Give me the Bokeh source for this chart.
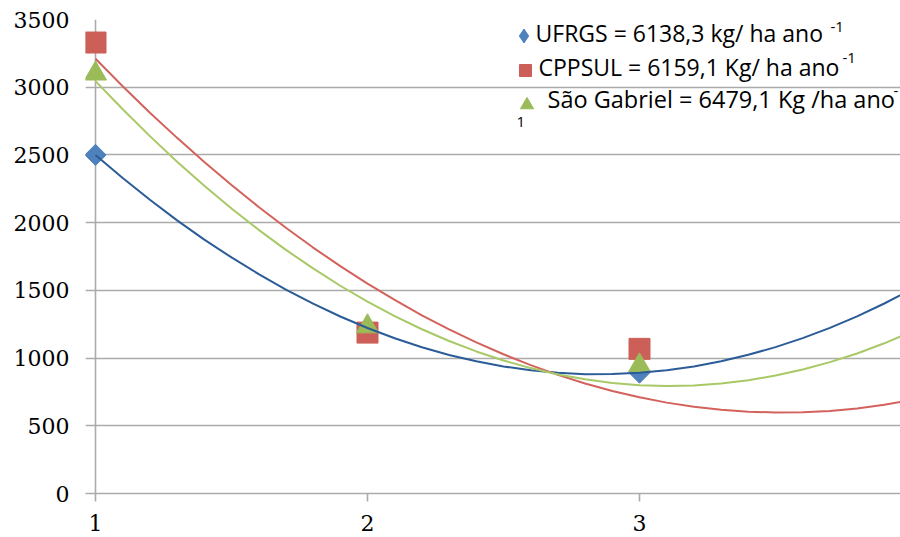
import math
from bokeh.plotting import figure
from bokeh.models import (Range1d, FixedTicker, Span, Label, Legend, LegendItem)
from bokeh.embed import file_html
from bokeh.resources import INLINE

# ---------------- data ----------------
x_points = [1, 2, 3]
ufrgs = [2500, 1222, 893]
cppsul = [3330, 1188, 1068]
sao_gabriel = [3100, 1233, 945]

# polynomial trend lines
trend_x = [1.0, 1.1, 1.2, 1.3, 1.4, 1.5, 1.6, 1.7, 1.8, 1.9,
           2.0, 2.1, 2.2, 2.3, 2.4, 2.5, 2.6, 2.7, 2.8, 2.9,
           3.0, 3.1, 3.2, 3.3, 3.4, 3.5, 3.6, 3.7, 3.8, 3.9, 4.0]
ufrgs_trend = [2500, 2330, 2169, 2017, 1875, 1743, 1620, 1506, 1402, 1307,
               1222, 1146, 1080, 1023, 976, 938, 910, 891, 881, 882,
               891, 910, 938, 976, 1024, 1081, 1147, 1223, 1308, 1403, 1507]
cppsul_trend = [3210, 3007, 2812, 2626, 2448, 2278, 2116, 1962, 1816, 1679,
                1550, 1429, 1316, 1212, 1116, 1028, 948, 876, 812, 757,
                710, 671, 640, 618, 604, 598, 600, 610, 628, 655, 690]
sg_trend = [3045, 2837, 2639, 2450, 2273, 2105, 1947, 1799, 1662, 1534,
            1417, 1310, 1213, 1126, 1049, 982, 926, 879, 843, 816,
            800, 794, 798, 812, 836, 871, 915, 970, 1034, 1109, 1194]

x_ticks = [1, 2, 3]
y_ticks = [0, 500, 1000, 1500, 2000, 2500, 3000, 3500]

legend_texts = ["UFRGS = 6138,3 kg/ ha ano",
                "CPPSUL = 6159,1 Kg/ ha ano",
                "S\u00e3o Gabriel = 6479,1 Kg /ha ano"]
legend_sups = ["-1", "-1", "-"]
legend_wrap = "1"

# ---------------- styles ----------------
BLUE_M, RED_M, GREEN_M = "#4F81BD", "#CD5F59", "#9BBB59"
BLUE_L, RED_L, GREEN_L = "#2B5C98", "#D4625C", "#A9C866"
GRID = "#ABABAB"
SERIF = "DejaVu Serif"
SANS = "Open Sans"

p = figure(width=900, height=537, output_backend="svg", toolbar_location=None,
           x_range=Range1d(1 - 10 / 272, 1 + 805 / 272), y_range=Range1d(0, 3500),
           min_border_left=85, min_border_right=0, min_border_top=19,
           min_border_bottom=44)
p.outline_line_color = None
p.background_fill_color = "white"
p.border_fill_color = "white"

p.xgrid.visible = False
p.ygrid.ticker = FixedTicker(ticks=y_ticks)
p.ygrid.grid_line_color = GRID
p.ygrid.grid_line_width = 1.6

xa = p.xaxis[0]
xa.ticker = FixedTicker(ticks=x_ticks)
xa.axis_line_color = GRID
xa.axis_line_width = 1.6
xa.major_tick_line_color = GRID
xa.major_tick_line_width = 1.6
xa.major_tick_out = 8
xa.major_tick_in = 0
xa.minor_tick_line_color = None
xa.major_label_text_font = SERIF
xa.major_label_text_font_size = "22px"
xa.major_label_text_color = "black"
xa.major_label_standoff = 13

ya = p.yaxis[0]
ya.ticker = FixedTicker(ticks=y_ticks)
ya.axis_line_color = None
ya.major_tick_line_color = None
ya.minor_tick_line_color = None
ya.major_tick_out = 0
ya.major_tick_in = 0
ya.major_label_text_font = SERIF
ya.major_label_text_font_size = "22px"
ya.major_label_text_color = "black"
ya.major_label_standoff = 16

# vertical axis line at x = 1
p.add_layout(Span(location=1, dimension="height", line_color=GRID,
                  line_width=1.6, level="underlay"))

# markers
p.scatter(x_points, ufrgs, marker="square", angle=math.pi / 4, size=15,
          fill_color=BLUE_M, line_color=BLUE_M)
p.scatter(x_points, cppsul, marker="square", size=21,
          fill_color=RED_M, line_color=RED_M)
p.scatter(x_points, sao_gabriel, marker="triangle", size=22,
          fill_color=GREEN_M, line_color=GREEN_M)

# trend lines
p.line(trend_x, ufrgs_trend, line_color=BLUE_L, line_width=2)
p.line(trend_x, cppsul_trend, line_color=RED_L, line_width=2)
p.line(trend_x, sg_trend, line_color=GREEN_L, line_width=2)

# legend glyphs (swatch renderers hold a single NaN so they draw nothing in the plot)
nan = float("nan")
leg_specs = [("diamond", BLUE_M, 35, (421, 440)),
             ("square", RED_M, 30, (425, 408)),
             ("triangle", GREEN_M, 33, (425, 372))]
for marker, col, box, loc in leg_specs:
    r = p.scatter(x=[nan], y=[nan], marker=marker, fill_color=col, line_color=col)
    lg = Legend(items=[LegendItem(label=" ", renderers=[r])], location=loc,
                glyph_width=box, glyph_height=box, padding=0, margin=0,
                spacing=0, label_standoff=0, label_width=0, label_height=0,
                label_text_font_size="1px", border_line_color=None,
                background_fill_alpha=0)
    p.add_layout(lg)

# legend texts
main_pos = [(450, 461), (453, 427), (462, 395)]
main_sizes = ["23px", "23px", "23.5px"]
sup_pos = [(745, 467), (757, 436), (808, 403)]
for txt, (lx, ly), fs in zip(legend_texts, main_pos, main_sizes):
    p.add_layout(Label(x=lx, y=ly, x_units="screen", y_units="screen", text=txt,
                       text_font=SANS, text_font_size=fs,
                       text_baseline="alphabetic", text_align="left",
                       text_color="black"))
for txt, (lx, ly) in zip(legend_sups, sup_pos):
    p.add_layout(Label(x=lx, y=ly, x_units="screen", y_units="screen", text=txt,
                       text_font=SANS, text_font_size="15px",
                       text_baseline="alphabetic", text_align="left",
                       text_color="black"))
p.add_layout(Label(x=431, y=372, x_units="screen", y_units="screen",
                   text=legend_wrap, text_font=SANS, text_font_size="15px",
                   text_baseline="alphabetic", text_align="left",
                   text_color="black"))

open("out.html", "w").write(file_html(p, INLINE))
